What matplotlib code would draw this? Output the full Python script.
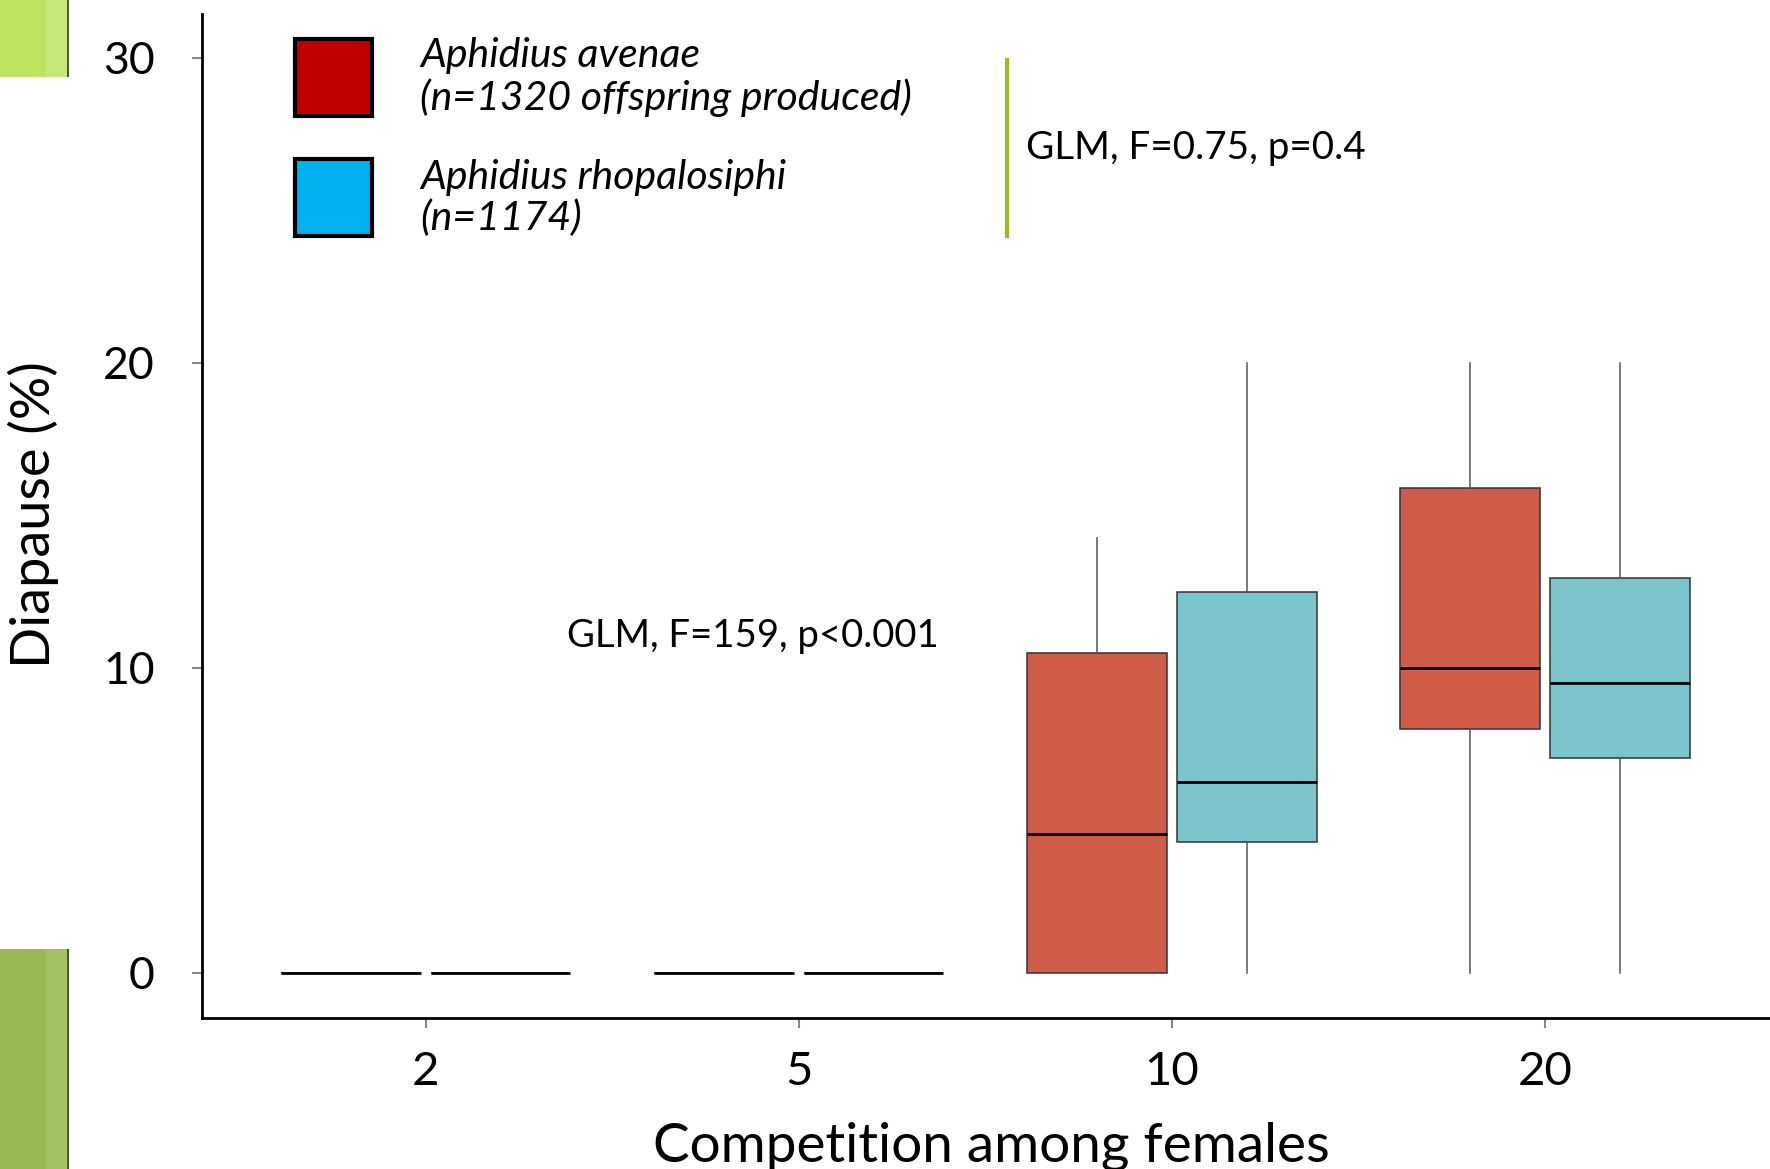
import numpy as np
import matplotlib
matplotlib.use("Agg")
import matplotlib.pyplot as plt
from matplotlib.patches import Rectangle

# Data
groepen = ["2", "5", "10", "20"]
soorten = ["Aphidius avenae\n(n=1320 offspring produced)",
           "Aphidius rhopalosiphi\n(n=1174)"]

# per groep: (whisker laag, q1, mediaan, q3, whisker hoog)
avenae_laag = [0, 0, 0, 0]
avenae_q1 = [0, 0, 0, 8.0]
avenae_med = [0, 0, 4.55, 10.0]
avenae_q3 = [0, 0, 10.5, 15.9]
avenae_hoog = [0, 0, 14.25, 20.0]

rhopa_laag = [0, 0, 0, 0]
rhopa_q1 = [0, 0, 4.3, 7.05]
rhopa_med = [0, 0, 6.25, 9.5]
rhopa_q3 = [0, 0, 12.5, 12.95]
rhopa_hoog = [0, 0, 20.0, 20.0]

glm_soort = "GLM, F=0.75, p=0.4"
glm_competitie = "GLM, F=159, p<0.001"

plt.rcParams["font.family"] = ["Lato", "DejaVu Sans"]

W, H = 1770, 1169
fig = plt.figure(figsize=(W / 100, H / 100), dpi=100)

# decoratieve groene blokjes links (dia-achtergrond)
fig.patches.append(Rectangle((0, 1 - 77 / H), 68 / W, 77 / H, transform=fig.transFigure,
                             facecolor="#bde35f", edgecolor="none"))
fig.patches.append(Rectangle((46 / W, 1 - 77 / H), 21 / W, 77 / H, transform=fig.transFigure,
                             facecolor="#c6e87a", edgecolor="none"))
fig.patches.append(Rectangle((0, 0), 68 / W, 220 / H, transform=fig.transFigure,
                             facecolor="#97ba55", edgecolor="none"))
fig.patches.append(Rectangle((46 / W, 0), 21 / W, 220 / H, transform=fig.transFigure,
                             facecolor="#a1c163", edgecolor="none"))
for yb, hb in [(1 - 77 / H, 77 / H), (0, 220 / H)]:
    fig.patches.append(Rectangle((67 / W, yb), 1.5 / W, hb, transform=fig.transFigure,
                                 facecolor="#4a5a30", edgecolor="none"))

ax = fig.add_axes([202 / W, 151 / H, 1 - 202 / W, (1018 - 14) / H])


def maak_stats(laag, q1, med, q3, hoog):
    return [dict(whislo=a, q1=b, med=c, q3=d, whishi=e, fliers=[])
            for a, b, c, d, e in zip(laag, q1, med, q3, hoog)]


x = np.arange(len(groepen))
breedte = 0.375
stijl = dict(
    widths=breedte, patch_artist=True, showcaps=False, showfliers=False,
    medianprops=dict(color="black", linewidth=2),
    whiskerprops=dict(color="#555555", linewidth=1.1),
)
b1 = ax.bxp(maak_stats(avenae_laag, avenae_q1, avenae_med, avenae_q3, avenae_hoog),
            positions=x - 0.2, boxprops=dict(facecolor="#cf5c48", edgecolor="#333333", linewidth=1.1),
            **stijl)
b2 = ax.bxp(maak_stats(rhopa_laag, rhopa_q1, rhopa_med, rhopa_q3, rhopa_hoog),
            positions=x + 0.2, boxprops=dict(facecolor="#7cc4cc", edgecolor="#333333", linewidth=1.1),
            **stijl)

ax.set_xlim(-0.6, 3.603)
ax.set_ylim(-1.48, 31.44)
ax.set_xticks(x)
ax.set_xticklabels(groepen)
ax.set_yticks([0, 10, 20, 30])
ax.spines["top"].set_visible(False)
ax.spines["right"].set_visible(False)
ax.spines["left"].set_linewidth(2)
ax.spines["bottom"].set_linewidth(2)
ax.tick_params(axis="both", length=7, width=1.5, color="#888888", labelsize=32)
ax.tick_params(axis="y", pad=27)
ax.tick_params(axis="x", labelsize=34, pad=17)

# legenda met vierkantjes
legenda_kleuren = ["#c00000", "#00b0f0"]
for i, (naam, kleur) in enumerate(zip(soorten, legenda_kleuren)):
    y0 = 28.11 - i * 3.96
    ax.add_patch(Rectangle((-0.3515, y0), 0.206, 2.52, facecolor=kleur,
                           edgecolor="black", linewidth=3, clip_on=False))
    ax.text(-0.015, y0 + 1.26, naam, fontsize=29.5, style="italic",
            va="center", ha="left", linespacing=1.12)

ax.plot([1.558, 1.558], [24.15, 29.93], color="#92c01e", linewidth=3)
ax.text(1.609, 27.04, glm_soort, fontsize=27.8, va="center", ha="left")
ax.text(1.376, 11.04, glm_competitie, fontsize=27.5, va="center", ha="right")

fig.text(0.56, 0.006, "Competition among females", fontsize=39.5, ha="center", va="baseline")
fig.text(0.019, 0.56, "Diapause (%)", fontsize=39, rotation=90, ha="center", va="center")

fig.savefig("out.png", dpi=100)
